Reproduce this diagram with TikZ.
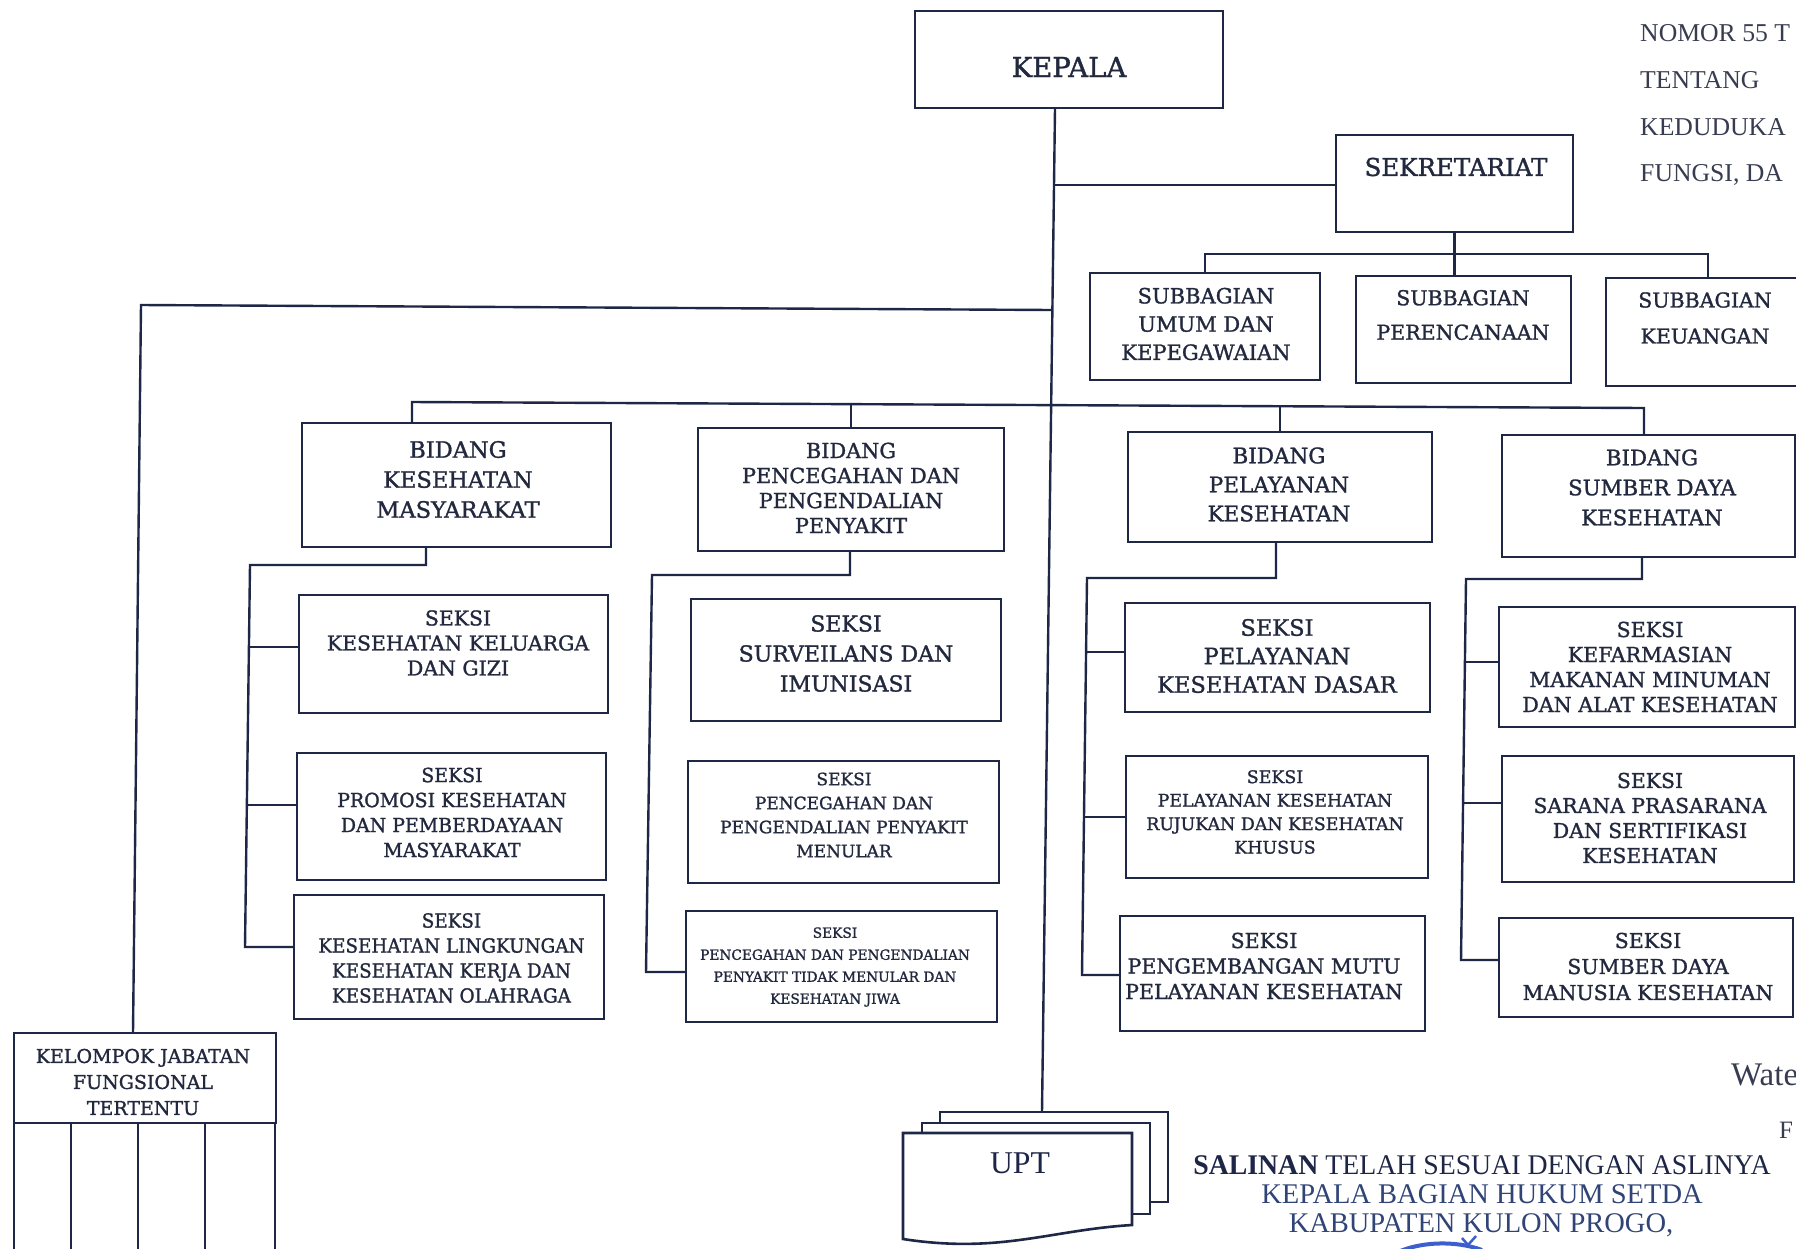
\documentclass[tikz,border=0pt]{standalone}
\usepackage{fontspec}
\setmainfont{Liberation Serif}
\newfontfamily\boxfont[FakeBold=1.3]{DejaVu Serif}
\usetikzlibrary{calc}
\definecolor{linec}{RGB}{30,40,70}
\definecolor{boxtxt}{RGB}{34,40,62}
\definecolor{hdrtxt}{RGB}{55,60,80}
\definecolor{ftdark}{RGB}{30,38,72}
\definecolor{ftblue}{RGB}{48,68,118}
\definecolor{stampc}{RGB}{60,95,205}
\newcommand{\fsz}[2]{\fontsize{#1}{#2}\selectfont}
\newcommand{\obox}[5]{\node[orgbox, minimum width={(#4)-(#2)}, minimum height={(#5)-(#3)}] (#1) at ({((#2)+(#4))/2},{((#3)+(#5))/2}) {};}
\tikzset{
  orgbox/.style={draw=linec, line width=2.6pt, inner sep=0pt, outer sep=0pt, fill=white},
  conn/.style={draw=linec, line width=2.4pt},
  btxt/.style={text=boxtxt, align=center, inner sep=0pt},
  htxt/.style={text=hdrtxt, inner sep=0pt, anchor=base west, font=\fsz{25.7}{30}},
}
\begin{document}
\begin{tikzpicture}[x=1pt,y=-1pt]
\useasboundingbox (0,0) rectangle (1796,1248);
\clip (0,0) rectangle (1796,1248);
\fill[white] (0,0) rectangle (1796,1248);

% ---------- coordinates for connector bends ----------
\coordinate (kT) at (1055,108);
\coordinate (uT) at (1042,1112);
\coordinate (jSek) at (1054,185);
\coordinate (jKel) at (1052.4,310);
\coordinate (kelC) at (141,305);
\coordinate (kelT) at (133,1033);
\coordinate (bL) at (412,402);
\coordinate (bR) at (1644,408);
\coordinate (c1a) at (426,565);
\coordinate (c1b) at (250,565);
\coordinate (c1c) at (245,947);
\coordinate (st1a) at (248.9,647);
\coordinate (st1b) at (246.9,805);
\coordinate (c2a) at (850,575);
\coordinate (c2b) at (652,575);
\coordinate (c2c) at (646,972);
\coordinate (c3a) at (1276,578);
\coordinate (c3b) at (1087,578);
\coordinate (c3c) at (1082,975);
\coordinate (st3a) at (1086.1,652);
\coordinate (st3b) at (1084.0,817);
\coordinate (c4a) at (1642,579);
\coordinate (c4b) at (1466,579);
\coordinate (c4c) at (1461,960);
\coordinate (st4a) at (1464.9,662);
\coordinate (st4b) at (1463.1,803);

% ---------- boxes ----------
\obox{kepala}{915}{11}{1223}{108}
\obox{sekr}{1336}{135}{1573}{232}
\obox{umum}{1090}{273}{1320}{380}
\obox{peren}{1356}{276}{1571}{383}
\obox{keu}{1606}{278}{1810}{386}
\obox{bid1}{302}{423}{611}{547}
\obox{bid2}{698}{428}{1004}{551}
\obox{bid3}{1128}{432}{1432}{542}
\obox{bid4}{1502}{435}{1795}{557}
\obox{sa}{299}{595}{608}{713}
\obox{sb}{297}{753}{606}{880}
\obox{sc}{294}{895}{604}{1019}
\obox{sd}{691}{599}{1001}{721}
\obox{se}{688}{761}{999}{883}
\obox{sf}{686}{911}{997}{1022}
\obox{sg}{1125}{603}{1430}{712}
\obox{sh}{1126}{756}{1428}{878}
\obox{si}{1120}{916}{1425}{1031}
\obox{sj}{1499}{607}{1795}{727}
\obox{sk}{1502}{756}{1794}{882}
\obox{sl}{1499}{918}{1793}{1017}
\obox{kel}{14}{1033}{276}{1123}
\obox{kelLow}{14}{1123}{275}{1262}

% ---------- connector lines ----------
\draw[conn] (kT) -- (uT);
\draw[conn] (jSek) -- (jSek -| sekr.west);
\draw[conn] (sekr.south) -- (sekr.south |- peren.north);
\draw[conn] (umum.north) -- ++(0,-19) -| (keu.north);
\draw[conn] (jKel) -- (kelC) -- (kelT);
\draw[conn] (bL |- bid1.north) -- (bL) -- (bR) -- (bR |- bid4.north);
\draw[conn] (bid2.north) -- (bid2.north |- 0,404);
\draw[conn] (bid3.north) -- (bid3.north |- 0,406);
% column 1
\draw[conn] (bid1.south -| c1a) -- (c1a) -- (c1b) -- (c1c) -- (c1c -| sc.west);
\draw[conn] (st1a) -- (st1a -| sa.west);
\draw[conn] (st1b) -- (st1b -| sb.west);
% column 2
\draw[conn] (bid2.south -| c2a) -- (c2a) -- (c2b) -- (c2c) -- (c2c -| sf.west);
% column 3
\draw[conn] (bid3.south -| c3a) -- (c3a) -- (c3b) -- (c3c) -- (c3c -| si.west);
\draw[conn] (st3a) -- (st3a -| sg.west);
\draw[conn] (st3b) -- (st3b -| sh.west);
% column 4
\draw[conn] (bid4.south -| c4a) -- (c4a) -- (c4b) -- (c4c) -- (c4c -| sl.west);
\draw[conn] (st4a) -- (st4a -| sj.west);
\draw[conn] (st4b) -- (st4b -| sk.west);
% kelompok inner columns
\foreach \xx in {71,138,205} \draw[conn] (kel.south -| \xx,0) -- (kelLow.south -| \xx,0);

% ---------- UPT stacked documents ----------
\obox{upt3}{940}{1112}{1168}{1202}
\obox{upt2}{922}{1123}{1150}{1214}
\draw[conn, line width=2.6pt, fill=white] (903,1133) -- (1132,1133) -- (1132,1225)
   .. controls (1050,1230) and (1000,1254) .. (903,1239) -- cycle;
\node[text=ftdark, inner sep=0pt, font=\fsz{31.7}{36}] (upt) at (1020,1163) {UPT};

% ---------- box texts ----------
\node[btxt, font={\boxfont\fsz{27.5}{30}}] (tKepala) at (1069,67) {KEPALA};
\node[btxt, font={\boxfont\fsz{24.5}{30}}] (tSekr) at (1456,167) {SEKRETARIAT};
\node[btxt, font={\boxfont\fsz{21}{28.25}}] (tUmum) at (1206,324) {SUBBAGIAN\\UMUM DAN\\KEPEGAWAIAN};
\node[btxt, font={\boxfont\fsz{20.5}{34.5}}] (tPeren) at (1463,315) {SUBBAGIAN\\PERENCANAAN};
\node[btxt, font={\boxfont\fsz{20.5}{36}}] (tKeu) at (1705,318) {SUBBAGIAN\\KEUANGAN};

\node[btxt, font={\boxfont\fsz{22.5}{30}}] (tBid1) at (458,479.5) {BIDANG\\KESEHATAN\\MASYARAKAT};
\node[btxt, font={\boxfont\fsz{20.8}{25}}] (tBid2) at (851,488) {BIDANG\\PENCEGAHAN DAN\\PENGENDALIAN\\PENYAKIT};
\node[btxt, font={\boxfont\fsz{21.5}{29}}] (tBid3) at (1279,484.5) {BIDANG\\PELAYANAN\\KESEHATAN};
\node[btxt, font={\boxfont\fsz{21.3}{30}}] (tBid4) at (1652,487.5) {BIDANG\\SUMBER DAYA\\KESEHATAN};

\node[btxt, font={\boxfont\fsz{20.4}{25}}] (tSa) at (458,643) {SEKSI\\KESEHATAN KELUARGA\\DAN GIZI};
\node[btxt, font={\boxfont\fsz{19.5}{25}}, xscale=0.97] (tSb) at (452,812.5) {SEKSI\\PROMOSI KESEHATAN\\DAN PEMBERDAYAAN\\MASYARAKAT};
\node[btxt, font={\boxfont\fsz{19.5}{25}}, xscale=0.94] (tSc) at (451.5,958) {SEKSI\\KESEHATAN LINGKUNGAN\\KESEHATAN KERJA DAN\\KESEHATAN OLAHRAGA};

\node[btxt, font={\boxfont\fsz{22}{30}}] (tSd) at (846,653.5) {SEKSI\\SURVEILANS DAN\\IMUNISASI};
\node[btxt, font={\boxfont\fsz{17}{24}}] (tSe) at (844,815) {SEKSI\\PENCEGAHAN DAN\\PENGENDALIAN PENYAKIT\\MENULAR};
\node[btxt, font={\boxfont\fsz{14}{22}}, xscale=0.98] (tSf) at (835,967) {SEKSI\\PENCEGAHAN DAN PENGENDALIAN\\PENYAKIT TIDAK MENULAR DAN\\KESEHATAN JIWA};

\node[btxt, font={\boxfont\fsz{22.5}{28.5}}] (tSg) at (1277,656) {SEKSI\\PELAYANAN\\KESEHATAN DASAR};
\node[btxt, font={\boxfont\fsz{17.4}{23.5}}] (tSh) at (1275,812) {SEKSI\\PELAYANAN KESEHATAN\\RUJUKAN DAN KESEHATAN\\KHUSUS};
\node[btxt, font={\boxfont\fsz{20.6}{25.5}}] (tSi) at (1264,966) {SEKSI\\PENGEMBANGAN MUTU\\PELAYANAN KESEHATAN};

\node[btxt, font={\boxfont\fsz{20.6}{25}}] (tSj) at (1650,667) {SEKSI\\KEFARMASIAN\\MAKANAN MINUMAN\\DAN ALAT KESEHATAN};
\node[btxt, font={\boxfont\fsz{20.4}{25}}] (tSk) at (1650,818) {SEKSI\\SARANA PRASARANA\\DAN SERTIFIKASI\\KESEHATAN};
\node[btxt, font={\boxfont\fsz{20.5}{26}}] (tSl) at (1648,966.5) {SEKSI\\SUMBER DAYA\\MANUSIA KESEHATAN};

\node[btxt, font={\boxfont\fsz{19}{26}}] (tKel) at (143,1082) {KELOMPOK JABATAN\\FUNGSIONAL\\TERTENTU};

% ---------- header text (top right) ----------
\node[htxt] (h1) at (1640,41.7) {NOMOR 55 T};
\node[htxt] (h2) at (1640,88.3) {TENTANG};
\node[htxt] (h3) at (1640,135) {KEDUDUKA};
\node[htxt] (h4) at (1640,181.7) {FUNGSI, DA};

% ---------- footer text ----------
\node[text=hdrtxt, inner sep=0pt, anchor=base west, font=\fsz{33}{36}] (wate) at (1731,1085) {Wate};
\node[text=hdrtxt, inner sep=0pt, anchor=base west, font=\fsz{25}{30}] (pf) at (1779,1138) {F};
\node[text=ftdark, inner sep=0pt, anchor=base, font=\fsz{28.5}{32}, xscale=0.975] (f1) at (1482,1174) {\textbf{SALINAN} TELAH SESUAI DENGAN ASLINYA};
\node[text=ftblue, inner sep=0pt, anchor=base, font=\fsz{28.5}{32}] (f2) at (1482,1203) {KEPALA BAGIAN HUKUM SETDA};
\node[text=ftblue, inner sep=0pt, anchor=base, font=\fsz{28.5}{32}] (f3) at (1481,1232) {KABUPATEN KULON PROGO,};
\draw[stampc, line width=4pt] (1398,1252) .. controls (1420,1242) and (1455,1240) .. (1482,1250);
\draw[stampc, line width=2.5pt] (1462,1238) -- (1468,1245) -- (1476,1236);
\end{tikzpicture}
\end{document}
